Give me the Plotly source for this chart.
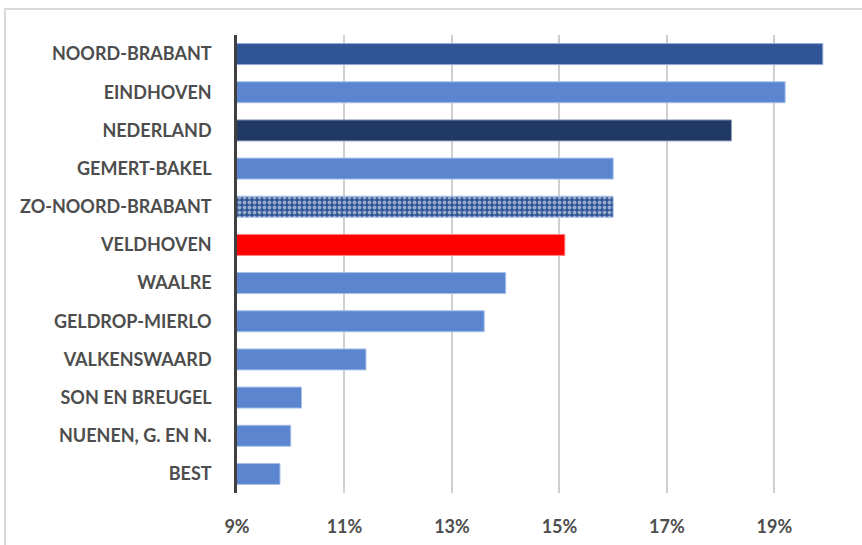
import plotly.graph_objects as go

categories = ["NOORD-BRABANT", "EINDHOVEN", "NEDERLAND", "GEMERT-BAKEL",
              "ZO-NOORD-BRABANT", "VELDHOVEN", "WAALRE", "GELDROP-MIERLO",
              "VALKENSWAARD", "SON EN BREUGEL", "NUENEN, G. EN N.", "BEST"]
values = [0.199, 0.192, 0.182, 0.160, 0.160, 0.151, 0.140, 0.136,
          0.114, 0.102, 0.100, 0.098]
tick_values = [0.09, 0.11, 0.13, 0.15, 0.17, 0.19]

LIGHT = "#5B86CF"
colors = ["#2F5597", LIGHT, "#1F3864", LIGHT, "#2F5597", "#FF0000",
          LIGHT, LIGHT, LIGHT, LIGHT, LIGHT, LIGHT]
line_colors = ["#8FA9D6", "#A9C1EA", "#8A9BB8", "#A9C1EA", "#A9C1EA", "#FF8080",
               "#A9C1EA", "#A9C1EA", "#A9C1EA", "#A9C1EA", "#A9C1EA", "#A9C1EA"]
shapes_pat = ["", "", "", "", ".", "", "", "", "", "", "", ""]

fig = go.Figure(go.Bar(
    y=categories, x=values, orientation="h",
    marker=dict(
        color=colors,
        line=dict(color=line_colors, width=1),
        pattern=dict(shape=shapes_pat, fgcolor="white", bgcolor=colors,
                     size=5, solidity=0.45),
    ),
    hoverinfo="skip",
))

fig.update_layout(
    width=862, height=545,
    margin=dict(l=237, r=0, t=35, b=52),
    plot_bgcolor="white", paper_bgcolor="white",
    bargap=0.45, showlegend=False,
    font=dict(family="Lato", size=18, color="#4D4D4D"),
    shapes=[dict(type="rect", xref="paper", yref="paper",
                 x0=-0.3712, x1=1.2, y0=-0.3, y1=1.0568,
                 line=dict(color="#D9D9D9", width=2), layer="below")],
)
fig.update_xaxes(
    range=[0.09, 0.2063], tickvals=tick_values, tickformat=".0%",
    showgrid=True, gridcolor="#D0D0D0", gridwidth=1.5,
    zeroline=False, showline=False, ticks="",
    ticklabelstandoff=21,
    tickfont=dict(family="Lato", size=18, color="#4D4D4D", weight="bold"),
)
fig.update_yaxes(
    autorange="reversed", showline=True, linecolor="#404040", linewidth=2.5,
    showgrid=False, ticks="", ticklabelstandoff=19,
    tickfont=dict(family="Lato", size=18, color="#4D4D4D", weight="bold"),
)

fig.write_html("out.html", config={"displayModeBar": False},
               post_script="document.body.style.margin='0';")
